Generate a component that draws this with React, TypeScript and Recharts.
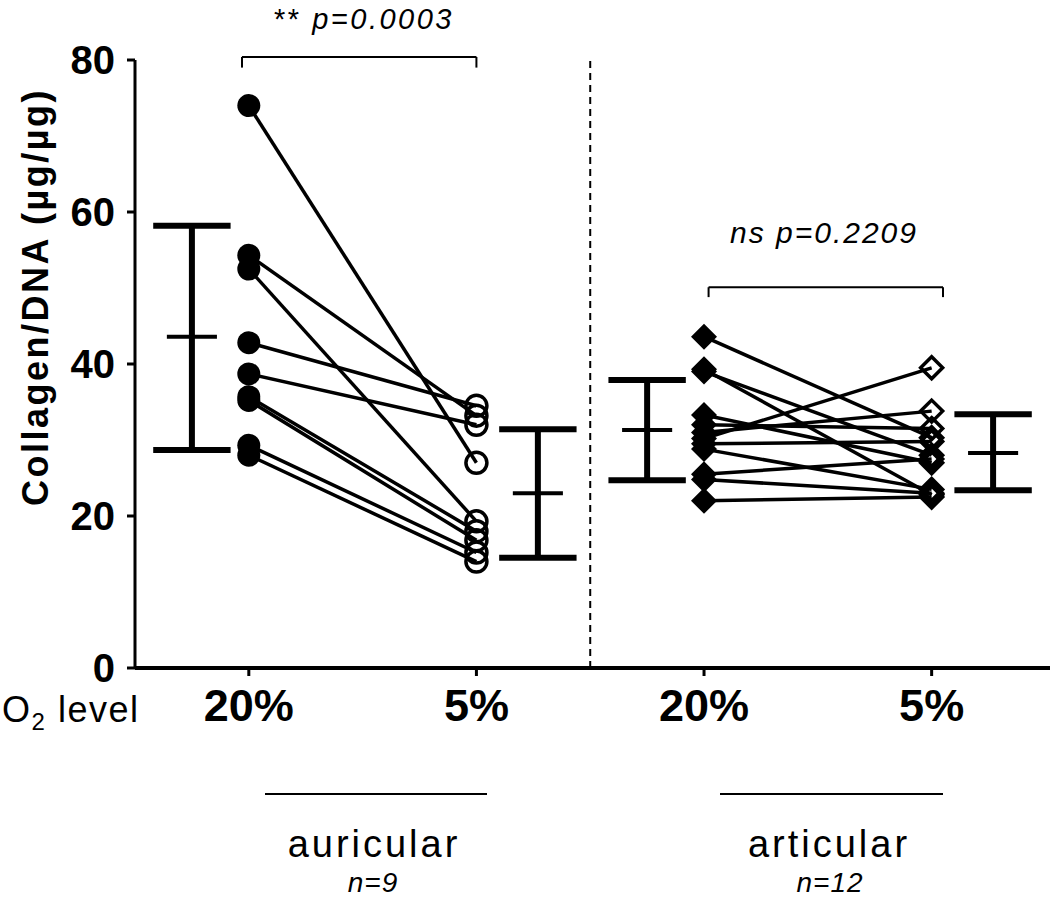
import React from "react"
import {
  ComposedChart,
  Line,
  Scatter,
  XAxis,
  YAxis,
  ReferenceLine,
} from "recharts"

// paired samples, 20% O2 -> 5% O2
const auricular20 = [74.0, 54.3, 52.5, 42.8, 38.7, 35.7, 35.2, 29.3, 28.0]
const auricular5 = [27.0, 33.2, 19.3, 34.5, 32.0, 18.0, 16.8, 15.2, 14.0]
const articular20 = [43.6, 39.3, 39.0, 33.3, 32.0, 31.0, 30.2, 29.5, 28.8, 25.5, 24.8, 22.0]
const articular5 = [30.3, 22.8, 28.0, 27.0, 31.5, 33.8, 39.5, 29.8, 23.5, 27.5, 23.0, 22.5]

// mean +/- SD bars, one per column
const barPositions = [0.75, 2.27, 2.75, 4.27]
const barMeans = [43.6, 23.0, 31.3, 28.3]
const barLows = [28.7, 14.5, 24.7, 23.4]
const barHighs = [58.2, 31.4, 37.9, 33.4]

const xTicks = [1, 2, 3, 4]
const xTickLabels = ["20%", "5%", "20%", "5%"]
const yTicks = [0, 20, 40, 60, 80]

const FONT = '"Liberation Sans", Arial, Helvetica, sans-serif'
const CAP = 0.17
const MEAN = 0.11

const pairs = (a: number[], b: number[], x0: number) =>
  a.map((v, i) => [
    { x: x0, y: v },
    { x: x0 + 1, y: b[i] },
  ])

const auricularPairs = pairs(auricular20, auricular5, 1)
const articularPairs = pairs(articular20, articular5, 3)

const FilledCircle = (p: any) => <circle cx={p.cx} cy={p.cy} r={11.5} fill="#000" />
const OpenCircle = (p: any) => (
  <circle cx={p.cx} cy={p.cy} r={10.5} fill="none" stroke="#000" strokeWidth={3.5} />
)
const diamond = (cx: number, cy: number, s: number) =>
  `M${cx},${cy - s} L${cx + s},${cy} L${cx},${cy + s} L${cx - s},${cy} Z`
const FilledDiamond = (p: any) => <path d={diamond(p.cx, p.cy, 13)} fill="#000" />
const OpenDiamond = (p: any) => (
  <path d={diamond(p.cx, p.cy, 11)} fill="none" stroke="#000" strokeWidth={3.5} />
)

export default function App() {
  return (
    <div style={{ position: "absolute", left: 0, top: 0, width: 1050, height: 900, background: "#fff" }}>
      <ComposedChart width={1050} height={900} margin={{ top: 60, right: 0, left: 0, bottom: 172 }}>
        <XAxis
          dataKey="x"
          type="number"
          domain={[0.5, 4.52]}
          ticks={xTicks}
          allowDataOverflow
          height={60}
          tickFormatter={(v: number) => xTickLabels[xTicks.indexOf(v)]}
          axisLine={{ stroke: "#000", strokeWidth: 4 }}
          tickLine={{ stroke: "#000", strokeWidth: 3 }}
          tickSize={8}
          tickMargin={13}
          tick={{ fill: "#000", fontSize: 45, fontWeight: 700, fontFamily: FONT }}
        />
        <YAxis
          type="number"
          domain={[0, 80]}
          ticks={yTicks}
          allowDataOverflow
          width={135}
          axisLine={{ stroke: "#000", strokeWidth: 3 }}
          tickLine={{ stroke: "#000", strokeWidth: 3 }}
          tickSize={8}
          tickMargin={12}
          tick={{ fill: "#000", fontSize: 40, fontWeight: 700, fontFamily: FONT }}
        />

        <ReferenceLine x={2.5} stroke="#000" strokeWidth={2} strokeDasharray="7 5" />

        {/* significance brackets */}
        <ReferenceLine segment={[{ x: 0.97, y: 79 }, { x: 0.97, y: 80.4 }]} stroke="#000" strokeWidth={2} ifOverflow="visible" />
        <ReferenceLine segment={[{ x: 0.97, y: 80.4 }, { x: 2.0, y: 80.4 }]} stroke="#000" strokeWidth={2} ifOverflow="visible" />
        <ReferenceLine segment={[{ x: 2.0, y: 79 }, { x: 2.0, y: 80.4 }]} stroke="#000" strokeWidth={2} ifOverflow="visible" />
        <ReferenceLine segment={[{ x: 3.02, y: 48.8 }, { x: 3.02, y: 50.1 }]} stroke="#000" strokeWidth={2} ifOverflow="visible" />
        <ReferenceLine segment={[{ x: 3.02, y: 50.1 }, { x: 4.05, y: 50.1 }]} stroke="#000" strokeWidth={2} ifOverflow="visible" />
        <ReferenceLine segment={[{ x: 4.05, y: 48.8 }, { x: 4.05, y: 50.1 }]} stroke="#000" strokeWidth={2} ifOverflow="visible" />

        {/* error bars */}
        {barPositions.map((x, i) => (
          <ReferenceLine key={`v${i}`} segment={[{ x, y: barLows[i] }, { x, y: barHighs[i] }]} stroke="#000" strokeWidth={6} ifOverflow="visible" />
        ))}
        {barPositions.map((x, i) => (
          <ReferenceLine key={`t${i}`} segment={[{ x: x - CAP, y: barHighs[i] }, { x: x + CAP, y: barHighs[i] }]} stroke="#000" strokeWidth={6} ifOverflow="visible" />
        ))}
        {barPositions.map((x, i) => (
          <ReferenceLine key={`b${i}`} segment={[{ x: x - CAP, y: barLows[i] }, { x: x + CAP, y: barLows[i] }]} stroke="#000" strokeWidth={6} ifOverflow="visible" />
        ))}
        {barPositions.map((x, i) => (
          <ReferenceLine key={`m${i}`} segment={[{ x: x - MEAN, y: barMeans[i] }, { x: x + MEAN, y: barMeans[i] }]} stroke="#000" strokeWidth={4} ifOverflow="visible" />
        ))}

        {/* paired lines */}
        {[...auricularPairs, ...articularPairs].map((d, i) => (
          <Line
            key={`l${i}`}
            data={d}
            dataKey="y"
            type="linear"
            stroke="#000"
            strokeWidth={3.5}
            dot={false}
            activeDot={false}
            isAnimationActive={false}
          />
        ))}

        <Scatter data={auricularPairs.map((d) => d[0])} dataKey="y" shape={FilledCircle} isAnimationActive={false} />
        <Scatter data={auricularPairs.map((d) => d[1])} dataKey="y" shape={OpenCircle} isAnimationActive={false} />
        <Scatter data={articularPairs.map((d) => d[0])} dataKey="y" shape={FilledDiamond} isAnimationActive={false} />
        <Scatter data={articularPairs.map((d) => d[1])} dataKey="y" shape={OpenDiamond} isAnimationActive={false} />
      </ComposedChart>

      <svg
        width={1050}
        height={900}
        style={{ position: "absolute", left: 0, top: 0, pointerEvents: "none" }}
        fontFamily={FONT}
      >
        <text x={364} y={29} textAnchor="middle" fontSize={29} letterSpacing={2.5}>
          ** <tspan fontStyle="italic">p=0.0003</tspan>
        </text>
        <text x={824} y={243} textAnchor="middle" fontSize={30} letterSpacing={2} fontStyle="italic">
          ns p=0.2209
        </text>
        <text
          x={48}
          y={297}
          textAnchor="middle"
          fontSize={36}
          fontWeight={700}
          letterSpacing={2.5}
          transform="rotate(-90, 48, 297)"
        >
          Collagen/DNA (µg/µg)
        </text>
        <text x={2} y={722} fontSize={36} letterSpacing={1.5}>
          O<tspan fontSize={24} dy={8}>2</tspan>
          <tspan dy={-8}> level</tspan>
        </text>
        <line x1={265} y1={794} x2={487} y2={794} stroke="#000" strokeWidth={2} />
        <line x1={720} y1={794} x2={943} y2={794} stroke="#000" strokeWidth={2} />
        <text x={374} y={857} textAnchor="middle" fontSize={38} letterSpacing={3}>
          auricular
        </text>
        <text x={829} y={857} textAnchor="middle" fontSize={38} letterSpacing={3}>
          articular
        </text>
        <text x={373} y={892} textAnchor="middle" fontSize={28} fontStyle="italic" letterSpacing={1}>
          n=9
        </text>
        <text x={830} y={892} textAnchor="middle" fontSize={28} fontStyle="italic" letterSpacing={1}>
          n=12
        </text>
      </svg>
    </div>
  )
}
